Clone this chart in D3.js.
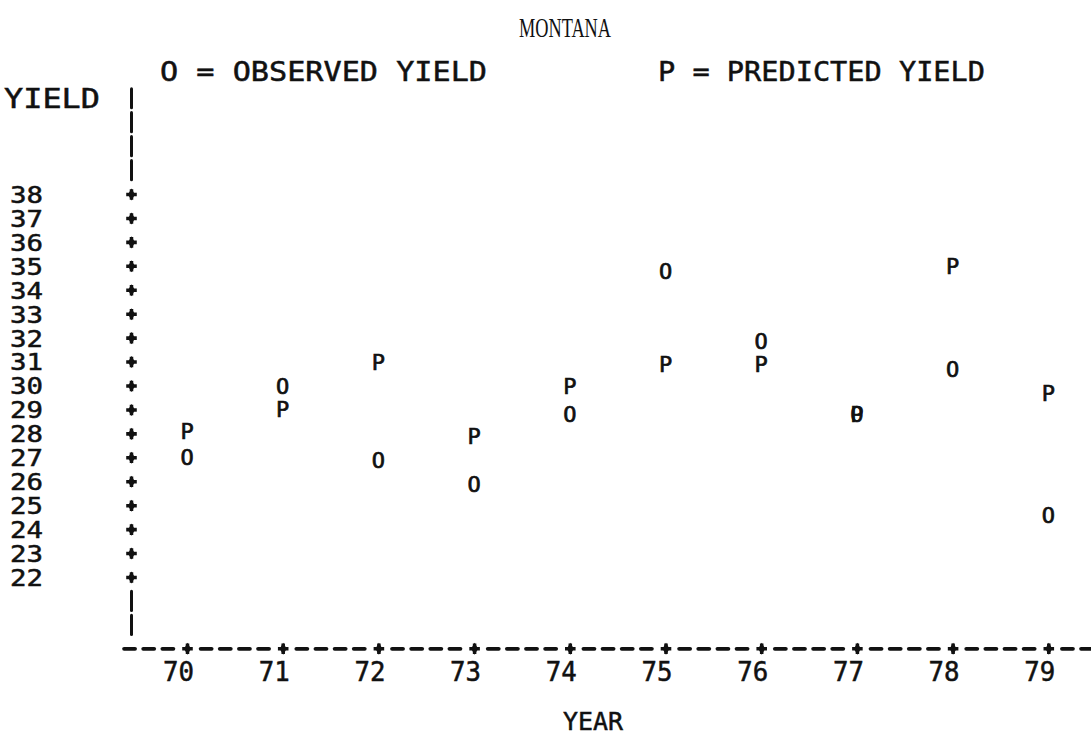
<!DOCTYPE html>
<html>
<head>
<meta charset="utf-8">
<script src="https://cdn.jsdelivr.net/npm/d3@7"></script>
<style>
  html, body { margin: 0; padding: 0; background: #fff; }
  svg { display: block; }
</style>
</head>
<body>
<svg id="chart" width="1091" height="737"></svg>
<script>
// ---- data ----
const years = [70, 71, 72, 73, 74, 75, 76, 77, 78, 79];
const observed = [27, 30, 26.9, 25.9, 28.8, 34.8, 31.85, 28.8, 30.7, 24.6];
const predicted = [28.1, 29, 31, 27.9, 30, 30.9, 30.9, 28.8, 35, 29.7];
const yTicks = [22, 23, 24, 25, 26, 27, 28, 29, 30, 31, 32, 33, 34, 35, 36, 37, 38];
const xTicks = [70, 71, 72, 73, 74, 75, 76, 77, 78, 79];
const title = "MONTANA";
const legendObserved = "O = OBSERVED YIELD";
const legendPredicted = "P = PREDICTED YIELD";
const yTitle = "YIELD";
const xTitle = "YEAR";

// ---- layout ----
const W = 1091, H = 737;
const printerFont = "'DejaVu Sans Mono', 'Liberation Mono', monospace";
const fs = 26;
const capHalf = fs * 0.729 / 2;
const axisX = 131.5;

const svg = d3.select("#chart");
const x = d3.scaleLinear().domain([70, 79]).range([187, 1048.3]);
const y = d3.scaleLinear().domain([22, 38]).range([577, 194]);
const rowStep = y(37) - y(38);        // one printer line
const cellStep = (x(71) - x(70)) / 5;  // one printer column
const axisY = y(19);

const ink = "#111";

// plus marker used for ticks
function plusMark(g) {
  g.append("path").attr("d", d3.symbol(d3.symbolCross, 62)()).attr("fill", ink);
  g.append("path").attr("d", d3.symbol(d3.symbolDiamond, 42)()).attr("fill", ink);
}

// ---- title & legend ----
svg.append("text").attr("x", 565).attr("y", 37)
  .attr("text-anchor", "middle")
  .attr("font-family", "'Liberation Serif', 'DejaVu Serif', serif")
  .attr("font-size", 27)
  .attr("textLength", 92).attr("lengthAdjust", "spacingAndGlyphs")
  .attr("fill", ink).text(title);

function printerText(str, x0, yc, len, size) {
  const s = size || fs;
  const t = svg.append("text").attr("x", x0).attr("y", yc + s * 0.729 / 2)
    .attr("font-family", printerFont).attr("font-size", s)
    .attr("fill", ink).attr("stroke", ink).attr("stroke-width", 0.5)
    .text(str);
  if (len) t.attr("textLength", len).attr("lengthAdjust", "spacingAndGlyphs");
  return t;
}
printerText(legendObserved, 160, 72, 327);
printerText(legendPredicted, 658, 72, 327);
printerText(yTitle, 4, y(42), 96);
printerText(xTitle, 563, 721, 60, 25);

// ---- y axis (line-printer style) ----
const yfs = 23;
const yAxis = d3.axisLeft(y).tickValues(yTicks).tickSize(0).tickPadding(0)
  .tickFormat(d3.format("d"));
const gy = svg.append("g").attr("transform", `translate(${axisX},0)`).call(yAxis);
gy.select(".domain").remove();
gy.selectAll(".tick text")
  .attr("x", 10 - axisX).attr("dy", null)
  .attr("y", yfs * 0.729 / 2)
  .attr("text-anchor", "start")
  .attr("font-family", printerFont).attr("font-size", yfs)
  .attr("textLength", 33).attr("lengthAdjust", "spacingAndGlyphs")
  .attr("fill", ink).attr("stroke", ink).attr("stroke-width", 0.5);
gy.selectAll(".tick").each(function() { plusMark(d3.select(this)); });

// vertical bar segments above and below the tick range
const barRows = [42, 41, 40, 39, 21, 20];
svg.append("g").selectAll("line").data(barRows).join("line")
  .attr("x1", axisX).attr("x2", axisX)
  .attr("y1", d => y(d) - rowStep * 0.4).attr("y2", d => y(d) + rowStep * 0.4)
  .attr("stroke", ink).attr("stroke-width", 3).attr("stroke-linecap", "round");

// ---- x axis (dashes + plus marks) ----
const nCells = Math.ceil((W - axisX) / cellStep) + 1;
const dashCells = d3.range(-3, nCells).filter(k => k % 5 !== 0);
svg.append("g").selectAll("line").data(dashCells).join("line")
  .attr("x1", k => x(70) + k * cellStep - 5.5)
  .attr("x2", k => x(70) + k * cellStep + 5.5)
  .attr("y1", axisY).attr("y2", axisY)
  .attr("stroke", ink).attr("stroke-width", 3.8).attr("stroke-linecap", "round");

const xAxis = d3.axisBottom(x).tickValues(xTicks).tickSize(0).tickPadding(0)
  .tickFormat(d3.format("d"));
const gx = svg.append("g").attr("transform", `translate(0,${axisY})`).call(xAxis);
gx.select(".domain").remove();
gx.selectAll(".tick text")
  .attr("dy", null).attr("y", 672 - axisY + capHalf)
  .attr("x", -9)
  .attr("text-anchor", "middle")
  .attr("font-family", printerFont).attr("font-size", fs)
  .attr("textLength", 31).attr("lengthAdjust", "spacingAndGlyphs")
  .attr("fill", ink).attr("stroke", ink).attr("stroke-width", 0.5);
gx.selectAll(".tick").each(function() { plusMark(d3.select(this)); });

// ---- points ----
const pfs = 22;
const obsData = years.map((yr, i) => ({ yr, v: observed[i] }));
const predData = years.map((yr, i) => ({ yr, v: predicted[i] }));
function plotSeries(data, ch, cls) {
  svg.append("g").attr("class", cls).selectAll("text").data(data).join("text")
    .attr("x", d => x(d.yr)).attr("y", d => y(d.v) + pfs * 0.729 / 2)
    .attr("text-anchor", "middle")
    .attr("font-family", printerFont).attr("font-size", pfs)
    .attr("fill", ink).attr("stroke", ink).attr("stroke-width", 0.7)
    .text(ch);
}
plotSeries(obsData, "O", "observed");
plotSeries(predData, "P", "predicted");
</script>
</body>
</html>
